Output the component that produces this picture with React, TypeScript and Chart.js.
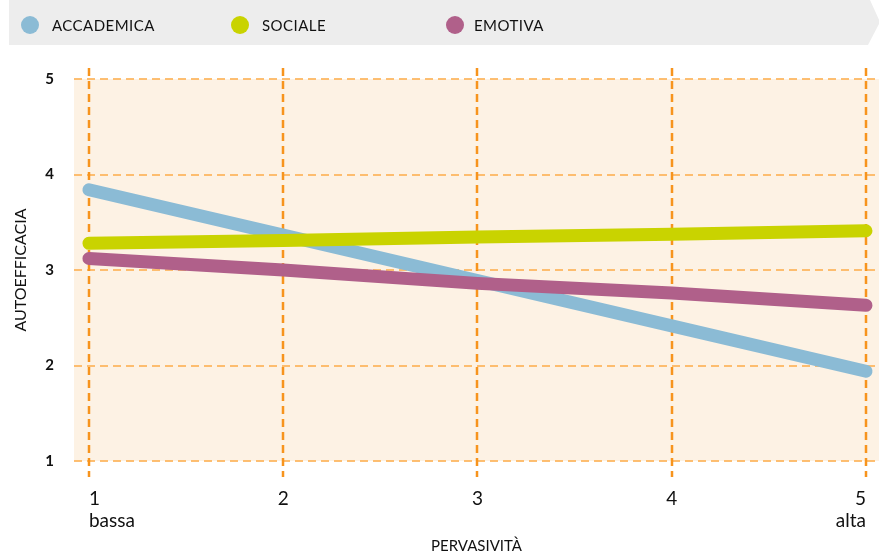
import React, { useEffect, useRef } from "react";
import { Chart, registerables } from "chart.js";

Chart.register(...registerables);

const xValues = [1, 2, 3, 4, 5];
const xTickLabels: string[][] = [["1", "bassa"], ["2"], ["3"], ["4"], ["5", "alta"]];
const yTicks = [1, 2, 3, 4, 5];
const accademica = [3.84, 3.365, 2.89, 2.415, 1.94];
const sociale = [3.28, 3.31, 3.345, 3.375, 3.41];
const emotiva = [3.12, 3.0, 2.86, 2.76, 2.63];
const seriesNames = ["ACCADEMICA", "SOCIALE", "EMOTIVA"];
const seriesColors = ["#8BBBD5", "#C9D300", "#B0608A"];

const FONT = "Lato, 'Noto Sans', sans-serif";

const bgPlugin = {
  id: "plotBg",
  beforeDraw(chart: any) {
    const { ctx, chartArea } = chart;
    ctx.save();
    ctx.fillStyle = "#FDF2E4";
    ctx.fillRect(chartArea.left, chartArea.top, chartArea.right - chartArea.left, chartArea.bottom - chartArea.top);
    ctx.restore();
  },
};

const vGridPlugin = {
  id: "vGrid",
  beforeDatasetsDraw(chart: any) {
    const { ctx, chartArea, scales } = chart;
    const xs = scales.x;
    ctx.save();
    ctx.strokeStyle = "#F7941D";
    ctx.lineWidth = 2.5;
    ctx.setLineDash([8, 5]);
    xValues.forEach((v) => {
      const px = Math.round(xs.getPixelForValue(v));
      ctx.beginPath();
      ctx.moveTo(px, chartArea.top - 11);
      ctx.lineTo(px, chartArea.bottom + 16);
      ctx.stroke();
    });
    ctx.restore();
  },
};

export default function App() {
  const canvasRef = useRef<HTMLCanvasElement | null>(null);

  useEffect(() => {
    if (!canvasRef.current) return;
    const seriesData = [accademica, sociale, emotiva];
    const orders = [3, 1, 2];
    const chart = new Chart(canvasRef.current, {
      type: "line",
      data: {
        datasets: seriesData.map((vals, i) => ({
          label: seriesNames[i],
          data: xValues.map((x, j) => ({ x, y: vals[j] })),
          borderColor: seriesColors[i],
          backgroundColor: seriesColors[i],
          borderWidth: 13,
          borderCapStyle: "round" as const,
          borderJoinStyle: "round" as const,
          pointRadius: 0,
          pointHoverRadius: 0,
          tension: 0,
          order: orders[i],
        })),
      },
      options: {
        animation: false,
        responsive: true,
        maintainAspectRatio: false,
        layout: { padding: { top: 79, left: 0, right: 0, bottom: 0 } },
        plugins: {
          legend: { display: false },
          tooltip: { enabled: false },
        },
        scales: {
          x: {
            type: "linear",
            min: 0.923,
            max: 5.067,
            afterBuildTicks: (s: any) => {
              s.ticks = xValues.map((v) => ({ value: v }));
            },
            afterFit: (s: any) => {
              s.height = 96;
              s.paddingLeft = 0;
              s.paddingRight = 0;
            },
            grid: { display: false },
            border: { display: false },
            ticks: {
              align: "inner",
              padding: 19,
              color: "#111",
              font: { family: FONT, size: 19, lineHeight: 1.15 },
              maxRotation: 0,
              autoSkip: false,
              callback: (_v: any, i: number) => xTickLabels[i],
            },
            title: {
              display: true,
              text: "PERVASIVITÀ",
              color: "#111",
              font: { family: FONT, size: 15 },
              padding: { top: 4, bottom: 2 },
            },
          },
          y: {
            type: "linear",
            min: 1,
            max: 5,
            afterBuildTicks: (s: any) => {
              s.ticks = yTicks.map((v) => ({ value: v }));
            },
            afterFit: (s: any) => {
              s.width = 74;
            },
            grid: {
              color: "rgba(253, 180, 90, 0.85)",
              lineWidth: 2,
              drawTicks: false,
            },
            border: { display: false, dash: [8, 5] },
            ticks: {
              padding: 20,
              color: "#111",
              font: { family: FONT, size: 15, weight: "bold" },
            },
            title: {
              display: true,
              text: "AUTOEFFICACIA",
              color: "#111",
              font: { family: FONT, size: 16 },
              padding: { top: 11, bottom: 4 },
            },
          },
        },
      } as any,
      plugins: [bgPlugin, vGridPlugin],
    });
    return () => chart.destroy();
  }, []);

  const legendItems = [
    { circle: 21, text: 52 },
    { circle: 231, text: 262 },
    { circle: 446, text: 474 },
  ];

  return (
    <div style={{ position: "fixed", left: 0, top: 0, width: 879, height: 557, background: "#fff" }}>
      <canvas ref={canvasRef} style={{ position: "absolute", left: 0, top: 0, width: 879, height: 557 }} />
      <div
        style={{
          position: "absolute",
          left: 9,
          top: 0,
          width: 871,
          height: 45,
          background: "#EDEDED",
          clipPath: "polygon(0 0, 861px 0, 871px 22px, 859px 45px, 0 45px)",
        }}
      />
      {legendItems.map((it, i) => (
        <React.Fragment key={seriesNames[i]}>
          <div
            style={{
              position: "absolute",
              left: it.circle,
              top: 16,
              width: 18,
              height: 18,
              borderRadius: "50%",
              background: seriesColors[i],
            }}
          />
          <div
            style={{
              position: "absolute",
              left: it.text,
              top: 15,
              height: 20,
              lineHeight: "20px",
              fontFamily: FONT,
              fontSize: 15,
              letterSpacing: "0.45px",
              color: "#111",
              whiteSpace: "nowrap",
            }}
          >
            {seriesNames[i]}
          </div>
        </React.Fragment>
      ))}
    </div>
  );
}
